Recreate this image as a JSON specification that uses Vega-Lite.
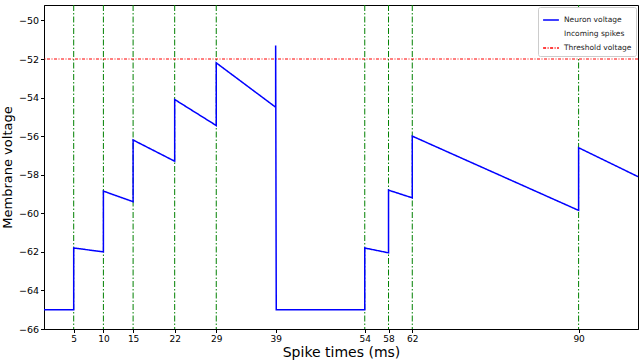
{
  "$schema": "https://vega.github.io/schema/vega-lite/v6.json",
  "autosize": "none",
  "width": 594,
  "height": 324,
  "padding": {"left": 44, "top": 5, "right": 2, "bottom": 33},
  "config": {
    "font": "DejaVu Sans",
    "view": {"stroke": "black", "strokeWidth": 1},
    "axis": {"grid": false, "domainColor": "black", "tickColor": "black", "labelColor": "black", "titleColor": "black", "titleFontWeight": "normal", "labelFont": "DejaVu Sans", "titleFont": "DejaVu Sans"}
  },
  "datasets": {
    "volt": [
      {"t": 0, "v": -65}, {"t": 5, "v": -65},
      {"t": 5, "v": -61.8}, {"t": 10, "v": -62.0},
      {"t": 10, "v": -58.85}, {"t": 15, "v": -59.4},
      {"t": 15, "v": -56.2}, {"t": 22, "v": -57.3},
      {"t": 22, "v": -54.1}, {"t": 29, "v": -55.45},
      {"t": 29, "v": -52.2}, {"t": 39, "v": -54.5},
      {"t": 39, "v": -51.3}, {"t": 39.1, "v": -65}, {"t": 54, "v": -65},
      {"t": 54, "v": -61.8}, {"t": 58, "v": -62.05},
      {"t": 58, "v": -58.8}, {"t": 62, "v": -59.2},
      {"t": 62, "v": -56.0}, {"t": 90, "v": -59.85},
      {"t": 90, "v": -56.6}, {"t": 100, "v": -58.1}
    ],
    "spikes": [{"t": 5}, {"t": 10}, {"t": 15}, {"t": 22}, {"t": 29}, {"t": 54}, {"t": 58}, {"t": 62}, {"t": 90}],
    "thresh": [{"v": -52}]
  },
  "layer": [
    {
      "data": {"name": "spikes"},
      "mark": {"type": "rule", "color": "#008000", "strokeWidth": 1, "strokeDash": [6, 2, 1.5, 2]},
      "encoding": {
        "x": {"field": "t", "type": "quantitative", "scale": {"domain": [0, 100], "nice": false, "zero": false},
          "axis": {"values": [5, 10, 15, 22, 29, 39, 54, 58, 62, 90], "title": "Spike times (ms)", "titleFontSize": 14, "labelFontSize": 9, "tickSize": 3.5, "titlePadding": 2}}
      }
    },
    {
      "data": {"name": "thresh"},
      "mark": {"type": "rule", "strokeWidth": 1},
      "encoding": {
        "y": {"field": "v", "type": "quantitative"},
        "color": {"datum": "Threshold voltage", "type": "nominal"},
        "strokeDash": {"datum": "Threshold voltage", "type": "nominal"}
      }
    },
    {
      "data": {"name": "volt"},
      "mark": {"type": "line", "strokeWidth": 1.5},
      "encoding": {
        "x": {"field": "t", "type": "quantitative"},
        "y": {"field": "v", "type": "quantitative", "scale": {"domain": [-66, -49.2], "nice": false, "zero": false},
          "axis": {"values": [-66, -64, -62, -60, -58, -56, -54, -52, -50], "title": "Membrane voltage", "titleFontSize": 13, "labelFontSize": 9.5, "tickSize": 3.5, "titlePadding": 4}},
        "order": {"field": "i"},
        "color": {"datum": "Neuron voltage", "type": "nominal",
          "scale": {"domain": ["Neuron voltage", "Incoming spikes", "Threshold voltage"], "range": ["#0000ff", "#ffffff", "#ff0000"]},
          "legend": {"title": null, "orient": "top-right", "offset": 2, "symbolType": "stroke", "symbolSize": 250, "symbolStrokeWidth": 1.5, "labelFontSize": 7.5, "labelFont": "DejaVu Sans", "labelColor": "#222", "rowPadding": 1, "strokeColor": "#cccccc", "fillColor": "white", "padding": 4, "cornerRadius": 2}},
        "strokeDash": {"datum": "Neuron voltage", "type": "nominal",
          "scale": {"domain": ["Neuron voltage", "Incoming spikes", "Threshold voltage"], "range": [[1, 0], [1, 0], [3, 1.5, 1, 1.5]]}}
      }
    }
  ]
}
